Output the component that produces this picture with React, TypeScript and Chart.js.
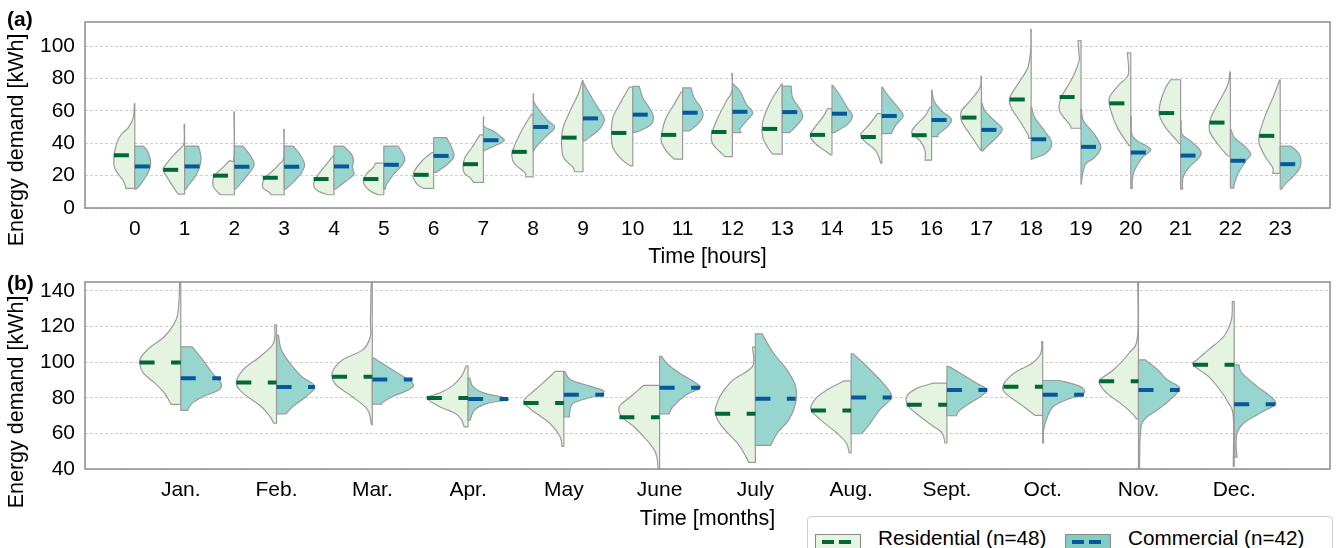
import React, { useEffect, useRef } from 'react';
import { Chart, registerables } from 'chart.js';

Chart.register(...registerables);

// [value, half-width in category units], listed from the top of each half-violin to its bottom
type Knot = [number, number];

const seriesNames = ['Residential (n=48)', 'Commercial (n=42)'];

// ---------- (a) hourly ----------
const hourLabels = ['0', '1', '2', '3', '4', '5', '6', '7', '8', '9', '10', '11', '12', '13', '14', '15', '16', '17', '18', '19', '20', '21', '22', '23'];
const hourTicksY = [0, 20, 40, 60, 80, 100];

const hourResMedian = [32.6, 23.6, 20.0, 18.7, 17.9, 17.9, 20.5, 27.1, 34.7, 43.5, 46.4, 45.2, 47.0, 48.9, 45.2, 43.9, 45.0, 55.9, 67.1, 68.6, 64.7, 58.7, 52.8, 44.6];
const hourComMedian = [25.7, 25.7, 25.5, 25.5, 25.7, 26.7, 32.2, 41.9, 50.1, 55.4, 57.7, 58.9, 59.5, 59.3, 58.3, 56.9, 54.4, 48.3, 42.5, 37.8, 34.3, 32.4, 29.2, 27.1];

const hourResShape: Knot[][] = [
  [[64.5, 0.01], [55.9, 0.03], [49.7, 0.13], [45.6, 0.27], [39.4, 0.37], [31.2, 0.42], [25.1, 0.41], [20.9, 0.33], [16.8, 0.23], [12.7, 0.18], [12.1, 0.18]],
  [[51.7, 0.01], [40.4, 0.01], [37.4, 0.07], [33.3, 0.2], [27.1, 0.37], [23.6, 0.43], [18.0, 0.33], [11.7, 0.2], [8.6, 0.13]],
  [[59.5, 0.01], [31.2, 0.01], [29.2, 0.1], [25.1, 0.23], [19.9, 0.4], [13.8, 0.43], [9.7, 0.33], [8.2, 0.27]],
  [[48.7, 0.01], [31.2, 0.01], [27.1, 0.1], [23.0, 0.23], [17.9, 0.4], [12.7, 0.43], [9.7, 0.3], [8.2, 0.27]],
  [[32.2, 0.02], [27.1, 0.15], [20.9, 0.31], [14.8, 0.41], [10.7, 0.33], [8.2, 0.12]],
  [[27.7, 0.17], [25.1, 0.21], [20.9, 0.35], [15.8, 0.41], [10.7, 0.28], [8.2, 0.11]],
  [[34.3, 0.03], [29.2, 0.23], [22.0, 0.4], [17.9, 0.4], [13.8, 0.3], [12.1, 0.2]],
  [[45.2, 0.07], [37.4, 0.23], [31.2, 0.37], [25.1, 0.41], [20.9, 0.37], [18.9, 0.27], [15.8, 0.2]],
  [[57.9, 0.03], [53.8, 0.12], [45.6, 0.27], [37.4, 0.39], [32.2, 0.43], [27.1, 0.37], [22.0, 0.17], [19.3, 0.15]],
  [[78.9, 0.01], [70.2, 0.1], [62.0, 0.23], [49.7, 0.4], [39.4, 0.43], [31.2, 0.39], [25.1, 0.2], [22.4, 0.17]],
  [[74.7, 0.07], [66.1, 0.23], [55.9, 0.4], [45.6, 0.43], [37.4, 0.4], [30.2, 0.23], [26.1, 0.05]],
  [[71.7, 0.03], [64.1, 0.17], [55.9, 0.33], [47.6, 0.41], [41.5, 0.43], [35.3, 0.33], [31.2, 0.2], [30.2, 0.17]],
  [[83.2, 0.01], [72.3, 0.01], [66.1, 0.12], [55.9, 0.29], [45.6, 0.42], [39.4, 0.39], [33.3, 0.2], [31.8, 0.15]],
  [[76.8, 0.01], [68.2, 0.19], [60.0, 0.32], [51.7, 0.4], [43.5, 0.39], [37.4, 0.29], [33.3, 0.19]],
  [[61.4, 0.09], [55.9, 0.19], [49.7, 0.35], [44.6, 0.44], [39.4, 0.32], [34.3, 0.09], [32.9, 0.03]],
  [[58.3, 0.09], [51.7, 0.25], [45.6, 0.42], [41.5, 0.35], [35.3, 0.12], [27.7, 0.02]],
  [[62.4, 0.03], [56.9, 0.13], [51.7, 0.3], [46.6, 0.4], [41.5, 0.23], [35.3, 0.13], [29.6, 0.13]],
  [[81.5, 0.01], [74.3, 0.03], [66.1, 0.23], [60.0, 0.4], [53.8, 0.4], [45.6, 0.23], [37.4, 0.05], [35.7, 0.01]],
  [[110.5, 0.01], [97.6, 0.01], [86.7, 0.07], [78.4, 0.23], [68.2, 0.43], [62.0, 0.4], [53.8, 0.23], [45.6, 0.07], [43.1, 0.05]],
  [[103.5, 0.06], [95.0, 0.04], [90.8, 0.04], [80.5, 0.17], [68.2, 0.4], [60.0, 0.43], [51.7, 0.23], [49.3, 0.2]],
  [[95.9, 0.07], [82.5, 0.05], [76.4, 0.23], [68.2, 0.43], [60.0, 0.4], [49.7, 0.27], [41.5, 0.1], [38.4, 0.03]],
  [[79.3, 0.2], [74.3, 0.3], [66.1, 0.4], [57.9, 0.43], [49.7, 0.3], [41.5, 0.07], [39.8, 0.03]],
  [[84.2, 0.01], [76.4, 0.05], [66.1, 0.22], [55.9, 0.39], [47.6, 0.42], [39.4, 0.25], [33.3, 0.09], [32.0, 0.03]],
  [[79.3, 0.01], [70.2, 0.12], [57.9, 0.29], [45.6, 0.42], [39.4, 0.42], [31.2, 0.29], [25.1, 0.15], [21.4, 0.15]],
];

const hourComShape: Knot[][] = [
  [[38.2, 0.17], [35.3, 0.25], [30.2, 0.31], [25.1, 0.31], [19.9, 0.23], [14.8, 0.12], [11.7, 0.03]],
  [[38.2, 0.28], [31.2, 0.33], [25.1, 0.3], [18.9, 0.2], [13.8, 0.07], [11.7, 0.03]],
  [[38.2, 0.17], [33.3, 0.3], [27.1, 0.4], [23.0, 0.33], [16.8, 0.17], [11.7, 0.02]],
  [[38.2, 0.18], [33.3, 0.31], [27.1, 0.41], [22.0, 0.35], [15.8, 0.18], [11.7, 0.03]],
  [[38.2, 0.19], [33.3, 0.35], [29.2, 0.39], [25.1, 0.37], [20.9, 0.4], [16.8, 0.25], [11.7, 0.03]],
  [[38.2, 0.29], [31.2, 0.42], [27.1, 0.38], [20.9, 0.2], [14.8, 0.06], [11.7, 0.03]],
  [[43.5, 0.26], [38.2, 0.35], [32.2, 0.41], [27.7, 0.3], [23.5, 0.12], [22.0, 0.05]],
  [[56.3, 0.01], [50.7, 0.01], [47.6, 0.2], [44.6, 0.33], [41.9, 0.42], [39.4, 0.3], [36.3, 0.07], [35.3, 0.01]],
  [[70.6, 0.01], [66.1, 0.01], [60.0, 0.13], [53.8, 0.3], [49.7, 0.43], [43.5, 0.23], [37.4, 0.05], [35.3, 0.01]],
  [[77.4, 0.01], [72.3, 0.1], [62.0, 0.3], [54.8, 0.43], [48.7, 0.33], [44.6, 0.17], [41.5, 0.03]],
  [[75.2, 0.13], [68.2, 0.2], [62.0, 0.33], [56.9, 0.41], [51.7, 0.37], [47.6, 0.13], [46.6, 0.01]],
  [[74.3, 0.17], [68.2, 0.23], [62.0, 0.37], [56.9, 0.41], [51.7, 0.3], [47.6, 0.13]],
  [[76.8, 0.01], [72.3, 0.15], [64.1, 0.28], [58.9, 0.41], [53.8, 0.28], [48.7, 0.15], [46.6, 0.18]],
  [[75.4, 0.18], [68.2, 0.21], [60.0, 0.38], [55.9, 0.41], [50.7, 0.28], [46.6, 0.15]],
  [[76.0, 0.01], [70.2, 0.15], [62.0, 0.31], [56.9, 0.41], [51.7, 0.31], [46.6, 0.05]],
  [[74.7, 0.01], [68.2, 0.16], [62.0, 0.33], [56.9, 0.43], [51.7, 0.29], [46.0, 0.19]],
  [[72.7, 0.01], [66.1, 0.05], [60.0, 0.2], [54.8, 0.4], [49.7, 0.3], [45.6, 0.13], [44.1, 0.13]],
  [[65.1, 0.01], [60.0, 0.07], [53.8, 0.27], [48.7, 0.42], [43.5, 0.3], [37.4, 0.09], [35.3, 0.03]],
  [[62.4, 0.01], [55.9, 0.07], [47.6, 0.27], [41.5, 0.4], [37.4, 0.4], [33.3, 0.27], [31.2, 0.1], [30.2, 0.01]],
  [[61.0, 0.01], [53.8, 0.05], [45.6, 0.27], [37.4, 0.4], [31.2, 0.27], [27.1, 0.09], [18.9, 0.02], [14.8, 0.01]],
  [[56.3, 0.01], [45.6, 0.02], [41.5, 0.13], [36.3, 0.4], [31.2, 0.23], [23.0, 0.07], [16.8, 0.03], [12.1, 0.03]],
  [[53.8, 0.01], [45.6, 0.03], [41.5, 0.2], [35.3, 0.4], [31.2, 0.37], [25.1, 0.17], [18.9, 0.05], [11.7, 0.04]],
  [[48.7, 0.01], [43.5, 0.08], [38.4, 0.28], [33.3, 0.41], [29.2, 0.31], [21.0, 0.15], [14.8, 0.08], [12.3, 0.07]],
  [[38.2, 0.21], [35.3, 0.33], [31.2, 0.41], [25.1, 0.4], [19.9, 0.27], [14.8, 0.1], [11.7, 0.03]],
];

// ---------- (b) monthly ----------
const monthLabels = ['Jan.', 'Feb.', 'Mar.', 'Apr.', 'May', 'June', 'July', 'Aug.', 'Sept.', 'Oct.', 'Nov.', 'Dec.'];
const monthTicksY = [40, 60, 80, 100, 120, 140];

const monthResMedian = [99.8, 88.6, 91.8, 79.8, 77.0, 69.0, 71.0, 72.9, 76.1, 86.2, 89.3, 98.5];
const monthComMedian = [91.0, 86.0, 90.3, 79.3, 81.7, 85.6, 79.4, 80.2, 84.3, 81.7, 84.3, 76.4];

const monthResShape: Knot[][] = [
  [[150, 0.01], [133, 0.02], [123.7, 0.05], [114.4, 0.17], [108.8, 0.31], [103.2, 0.41], [99.4, 0.43], [93.8, 0.39], [88.2, 0.27], [82.6, 0.17], [76.3, 0.1]],
  [[120.9, 0.02], [110.7, 0.03], [103.2, 0.17], [95.7, 0.35], [88.2, 0.42], [82.6, 0.35], [75.1, 0.16], [69.5, 0.07], [65.8, 0.03]],
  [[150, 0.01], [122.8, 0.02], [114.4, 0.02], [106.9, 0.1], [101.3, 0.31], [93.8, 0.42], [87.3, 0.38], [80.7, 0.21], [73.3, 0.05], [64.9, 0.01]],
  [[97.9, 0.02], [92.0, 0.07], [86.4, 0.17], [82.6, 0.3], [79.8, 0.43], [75.1, 0.3], [71.4, 0.14], [67.7, 0.07], [63.6, 0.04]],
  [[94.8, 0.09], [88.2, 0.22], [82.6, 0.34], [77.9, 0.42], [73.3, 0.34], [65.8, 0.15], [58.3, 0.04], [52.7, 0.02]],
  [[86.9, 0.17], [80.7, 0.3], [75.1, 0.42], [69.5, 0.4], [63.9, 0.27], [58.3, 0.17], [52.7, 0.08], [47.1, 0.03], [36, 0.01]],
  [[108.4, 0.03], [97.6, 0.03], [90.1, 0.23], [82.6, 0.35], [77.0, 0.4], [71.4, 0.42], [63.9, 0.35], [54.6, 0.19], [47.1, 0.1], [43.7, 0.07]],
  [[89.5, 0.07], [84.5, 0.25], [78.9, 0.38], [73.3, 0.42], [67.7, 0.32], [60.2, 0.15], [54.6, 0.05], [49.0, 0.02]],
  [[88.2, 0.14], [85.4, 0.31], [80.7, 0.42], [75.1, 0.4], [69.5, 0.28], [63.9, 0.14], [60.2, 0.05], [54.6, 0.02]],
  [[111.6, 0.01], [105.0, 0.02], [99.4, 0.11], [93.8, 0.3], [87.3, 0.41], [82.6, 0.39], [75.1, 0.2], [70.1, 0.08]],
  [[150, 0.01], [114.4, 0.01], [105.0, 0.1], [95.7, 0.26], [89.3, 0.41], [82.6, 0.33], [77.0, 0.19], [71.4, 0.07], [68.2, 0.02]],
  [[134.0, 0.02], [123.7, 0.03], [114.4, 0.11], [106.9, 0.27], [101.3, 0.39], [98.5, 0.43], [92.0, 0.27], [84.5, 0.15], [77.0, 0.06], [69.5, 0.01], [41.5, 0.01]],
];

const monthComShape: Knot[][] = [
  [[108.6, 0.12], [101.3, 0.23], [93.8, 0.33], [88.2, 0.42], [84.5, 0.4], [80.7, 0.24], [77.0, 0.12], [72.9, 0.07]],
  [[115.0, 0.02], [106.9, 0.05], [99.4, 0.14], [92.0, 0.26], [86.4, 0.4], [80.7, 0.31], [75.1, 0.17], [71.0, 0.1]],
  [[102.2, 0.02], [95.7, 0.21], [88.2, 0.42], [84.5, 0.38], [80.7, 0.21], [77.0, 0.1], [76.4, 0.1]],
  [[91.0, 0.02], [86.4, 0.05], [82.6, 0.17], [79.3, 0.42], [77.0, 0.21], [73.3, 0.07], [67.3, 0.02]],
  [[94.8, 0.01], [90.1, 0.07], [86.4, 0.28], [83.6, 0.42], [80.7, 0.31], [77.0, 0.1], [71.4, 0.06], [69.2, 0.06]],
  [[103.2, 0.02], [98.5, 0.09], [93.8, 0.21], [88.2, 0.38], [85.4, 0.42], [81.7, 0.28], [75.1, 0.14], [71.0, 0.1]],
  [[115.9, 0.07], [105.0, 0.19], [95.7, 0.33], [86.4, 0.42], [77.0, 0.42], [67.7, 0.35], [60.2, 0.23], [53.3, 0.16]],
  [[104.7, 0.02], [99.4, 0.13], [90.1, 0.3], [84.5, 0.39], [79.8, 0.42], [73.3, 0.3], [65.8, 0.2], [59.8, 0.11]],
  [[97.6, 0.02], [93.8, 0.14], [88.2, 0.31], [84.5, 0.42], [80.7, 0.35], [73.3, 0.14], [69.9, 0.1]],
  [[89.7, 0.18], [86.4, 0.39], [82.6, 0.43], [78.9, 0.25], [75.1, 0.11], [69.5, 0.05], [62.1, 0.01], [54.6, 0.01]],
  [[101.3, 0.07], [95.7, 0.2], [90.1, 0.3], [85.4, 0.43], [78.9, 0.33], [73.3, 0.2], [67.7, 0.06], [60, 0.02], [35, 0.01]],
  [[98.5, 0.05], [93.8, 0.08], [86.4, 0.24], [80.7, 0.38], [76.4, 0.43], [71.4, 0.27], [65.8, 0.1], [60.2, 0.03], [52.7, 0.02], [46.7, 0.03]],
];

// ---------- styling ----------
const FONT_FAMILY = '"Liberation Sans", Arial, Helvetica, sans-serif';
const RES_FILL = '#e5f4e0';
const COM_FILL = '#97d6ce';
const RES_LEGEND_FILL = '#e5f5e0';
const COM_LEGEND_FILL = '#80cdc3';
const RES_MEDIAN = '#006837';
const COM_MEDIAN = '#07589b';
const OUTLINE = '#9b9b9b';

interface HalfSeries {
  shapes: Knot[][];
  medians: number[];
  side: -1 | 1;
  fill: string;
  medianColor: string;
}

// Draws split half-violins and their dashed median lines on the chart's x/y scales.
function makeViolinPlugin(id: string, series: HalfSeries[]) {
  return {
    id,
    beforeDatasetsDraw(chart: any) {
      const { ctx, chartArea: a, scales } = chart;
      const x = scales.x;
      const y = scales.y;
      ctx.save();
      ctx.beginPath();
      ctx.rect(a.left, a.top, a.right - a.left, a.bottom - a.top);
      ctx.clip();

      const count = series[0].shapes.length;
      for (let i = 0; i < count; i++) {
        for (const s of series) {
          const knots = s.shapes[i];
          const cx = x.getPixelForValue(i);
          const pts = knots.map(([v, w]) => ({ x: x.getPixelForValue(i + s.side * w), y: y.getPixelForValue(v) }));
          ctx.beginPath();
          ctx.moveTo(cx, pts[0].y);
          ctx.lineTo(pts[0].x, pts[0].y);
          for (let k = 0; k < pts.length - 1; k++) {
            const p0 = pts[Math.max(k - 1, 0)];
            const p1 = pts[k];
            const p2 = pts[k + 1];
            const p3 = pts[Math.min(k + 2, pts.length - 1)];
            ctx.bezierCurveTo(
              p1.x + (p2.x - p0.x) / 6, p1.y + (p2.y - p0.y) / 6,
              p2.x - (p3.x - p1.x) / 6, p2.y - (p3.y - p1.y) / 6,
              p2.x, p2.y,
            );
          }
          ctx.lineTo(cx, pts[pts.length - 1].y);
          ctx.closePath();
          ctx.fillStyle = s.fill;
          ctx.fill();
          ctx.strokeStyle = OUTLINE;
          ctx.lineWidth = 1.2;
          ctx.lineJoin = 'round';
          ctx.stroke();
        }
      }

      for (const s of series) {
        s.medians.forEach((m, i) => {
          const w = Math.max(...s.shapes[i].map((k) => k[1]));
          const x0 = x.getPixelForValue(s.side < 0 ? i - w : i);
          const x1 = x.getPixelForValue(s.side < 0 ? i : i + w);
          const py = y.getPixelForValue(m);
          ctx.beginPath();
          ctx.setLineDash([15, 16.5]);
          ctx.lineWidth = 4;
          ctx.lineCap = 'butt';
          ctx.strokeStyle = s.medianColor;
          ctx.moveTo(x0, py);
          ctx.lineTo(x1, py);
          ctx.stroke();
        });
      }
      ctx.setLineDash([]);
      ctx.restore();
    },
  };
}

// Full frame around the plotting area.
const framePlugin = {
  id: 'frame',
  afterDraw(chart: any) {
    const { ctx, chartArea: a } = chart;
    ctx.save();
    ctx.strokeStyle = '#8c8c8c';
    ctx.lineWidth = 1.5;
    ctx.strokeRect(a.left, a.top, a.right - a.left, a.bottom - a.top);
    ctx.restore();
  },
};

// Panel letter and the rotated y-axis title.
function makeTextPlugin(id: string, letter: string, letterY: number, title: string, titleY: number) {
  return {
    id,
    afterDraw(chart: any) {
      const { ctx } = chart;
      ctx.save();
      ctx.fillStyle = '#000';
      ctx.font = `bold 21px ${FONT_FAMILY}`;
      ctx.textAlign = 'left';
      ctx.textBaseline = 'middle';
      ctx.fillText(letter, 7, letterY);
      ctx.font = `21.5px ${FONT_FAMILY}`;
      ctx.translate(17, titleY);
      ctx.rotate(-Math.PI / 2);
      ctx.textAlign = 'center';
      ctx.fillText(title, 0, 0);
      ctx.restore();
    },
  };
}

function buildConfig(opts: {
  labels: string[];
  yMin: number;
  yMax: number;
  yTicks: number[];
  xTitle: string;
  xTitlePad: number;
  top: number;
  xAxisHeight: number;
  series: HalfSeries[];
  letter: string;
  letterY: number;
  yTitleY: number;
  id: string;
}): any {
  const tickFont = { family: FONT_FAMILY, size: 21 };
  const titleFont = { family: FONT_FAMILY, size: 21.5 };
  return {
    type: 'scatter',
    data: { datasets: [] },
    options: {
      animation: false,
      responsive: false,
      maintainAspectRatio: false,
      devicePixelRatio: 1,
      layout: { padding: { left: 0, right: 9, top: opts.top, bottom: 0 } },
      plugins: { legend: { display: false }, tooltip: { enabled: false } },
      scales: {
        x: {
          type: 'linear',
          position: 'bottom',
          min: -1,
          max: opts.labels.length,
          afterBuildTicks: (s: any) => {
            s.ticks = opts.labels.map((_, i) => ({ value: i }));
          },
          ticks: {
            autoSkip: false,
            maxRotation: 0,
            padding: 9,
            color: '#000',
            font: tickFont,
            callback: (v: number) => opts.labels[v] ?? '',
          },
          grid: { display: false, drawTicks: false },
          border: { display: false },
          title: { display: true, text: opts.xTitle, color: '#000', font: titleFont, padding: { top: 0, bottom: opts.xTitlePad } },
          afterFit: (s: any) => {
            s.height = opts.xAxisHeight;
            s.paddingLeft = 0;
            s.paddingRight = 0;
          },
        },
        y: {
          type: 'linear',
          min: opts.yMin,
          max: opts.yMax,
          afterBuildTicks: (s: any) => {
            s.ticks = opts.yTicks.map((v) => ({ value: v }));
          },
          ticks: { padding: 10, color: '#000', font: tickFont, callback: (v: number) => String(v) },
          grid: { color: '#c4c4c4', lineWidth: 0.8, drawTicks: false },
          border: { display: false, dash: [3, 2] },
          afterFit: (s: any) => {
            s.width = 85;
            s.paddingTop = 0;
            s.paddingBottom = 0;
          },
        },
      },
    },
    plugins: [
      makeViolinPlugin(opts.id + 'Violins', opts.series),
      framePlugin,
      makeTextPlugin(opts.id + 'Text', opts.letter, opts.letterY, 'Energy demand [kWh]', opts.yTitleY),
    ],
  };
}

const legendItems = [
  { label: seriesNames[0], fill: RES_LEGEND_FILL, dash: RES_MEDIAN, left: 8, textLeft: 71 },
  { label: seriesNames[1], fill: COM_LEGEND_FILL, dash: COM_MEDIAN, left: 258, textLeft: 321 },
];

function Legend() {
  return (
    <div
      style={{
        position: 'absolute',
        left: 807,
        top: 516,
        width: 526,
        height: 44,
        border: '1px solid #cccccc',
        borderRadius: 4,
        background: '#fff',
        boxSizing: 'border-box',
      }}
    >
      {legendItems.map((it) => (
        <React.Fragment key={it.label}>
          <div
            style={{
              position: 'absolute',
              left: it.left - 1,
              top: 17,
              width: 46,
              height: 17,
              background: it.fill,
              border: '1px solid #8a8a8a',
              boxSizing: 'border-box',
            }}
          >
            <div style={{ position: 'absolute', left: 6, top: 5, width: 12, height: 4, background: it.dash }} />
            <div style={{ position: 'absolute', left: 23, top: 5, width: 12, height: 4, background: it.dash }} />
          </div>
          <div
            style={{
              position: 'absolute',
              left: it.textLeft - 1,
              top: 7,
              fontSize: 20.7,
              lineHeight: '28px',
              fontFamily: FONT_FAMILY,
              color: '#000',
              whiteSpace: 'nowrap',
            }}
          >
            {it.label}
          </div>
        </React.Fragment>
      ))}
    </div>
  );
}

export default function App() {
  const refA = useRef<HTMLCanvasElement>(null);
  const refB = useRef<HTMLCanvasElement>(null);

  useEffect(() => {
    const chartA = new Chart(
      refA.current as HTMLCanvasElement,
      buildConfig({
        id: 'hours',
        labels: hourLabels,
        yMin: 0,
        yMax: 115,
        yTicks: hourTicksY,
        xTitle: 'Time [hours]',
        xTitlePad: 0,
        top: 22,
        xAxisHeight: 62,
        letter: '(a)',
        letterY: 20,
        yTitleY: 140,
        series: [
          { shapes: hourResShape, medians: hourResMedian, side: -1, fill: RES_FILL, medianColor: RES_MEDIAN },
          { shapes: hourComShape, medians: hourComMedian, side: 1, fill: COM_FILL, medianColor: COM_MEDIAN },
        ],
      }),
    );
    const chartB = new Chart(
      refB.current as HTMLCanvasElement,
      buildConfig({
        id: 'months',
        labels: monthLabels,
        yMin: 40,
        yMax: 145,
        yTicks: monthTicksY,
        xTitle: 'Time [months]',
        xTitlePad: 16,
        top: 12,
        xAxisHeight: 79,
        letter: '(b)',
        letterY: 14,
        yTitleY: 132,
        series: [
          { shapes: monthResShape, medians: monthResMedian, side: -1, fill: RES_FILL, medianColor: RES_MEDIAN },
          { shapes: monthComShape, medians: monthComMedian, side: 1, fill: COM_FILL, medianColor: COM_MEDIAN },
        ],
      }),
    );
    return () => {
      chartA.destroy();
      chartB.destroy();
    };
  }, []);

  return (
    <div
      style={{
        position: 'fixed',
        left: 0,
        top: 0,
        width: 1339,
        height: 548,
        overflow: 'hidden',
        background: '#fff',
        fontFamily: FONT_FAMILY,
      }}
    >
      <canvas ref={refA} width={1339} height={270} style={{ position: 'absolute', left: 0, top: 0, width: 1339, height: 270 }} />
      <canvas ref={refB} width={1339} height={278} style={{ position: 'absolute', left: 0, top: 270, width: 1339, height: 278 }} />
      <Legend />
    </div>
  );
}
